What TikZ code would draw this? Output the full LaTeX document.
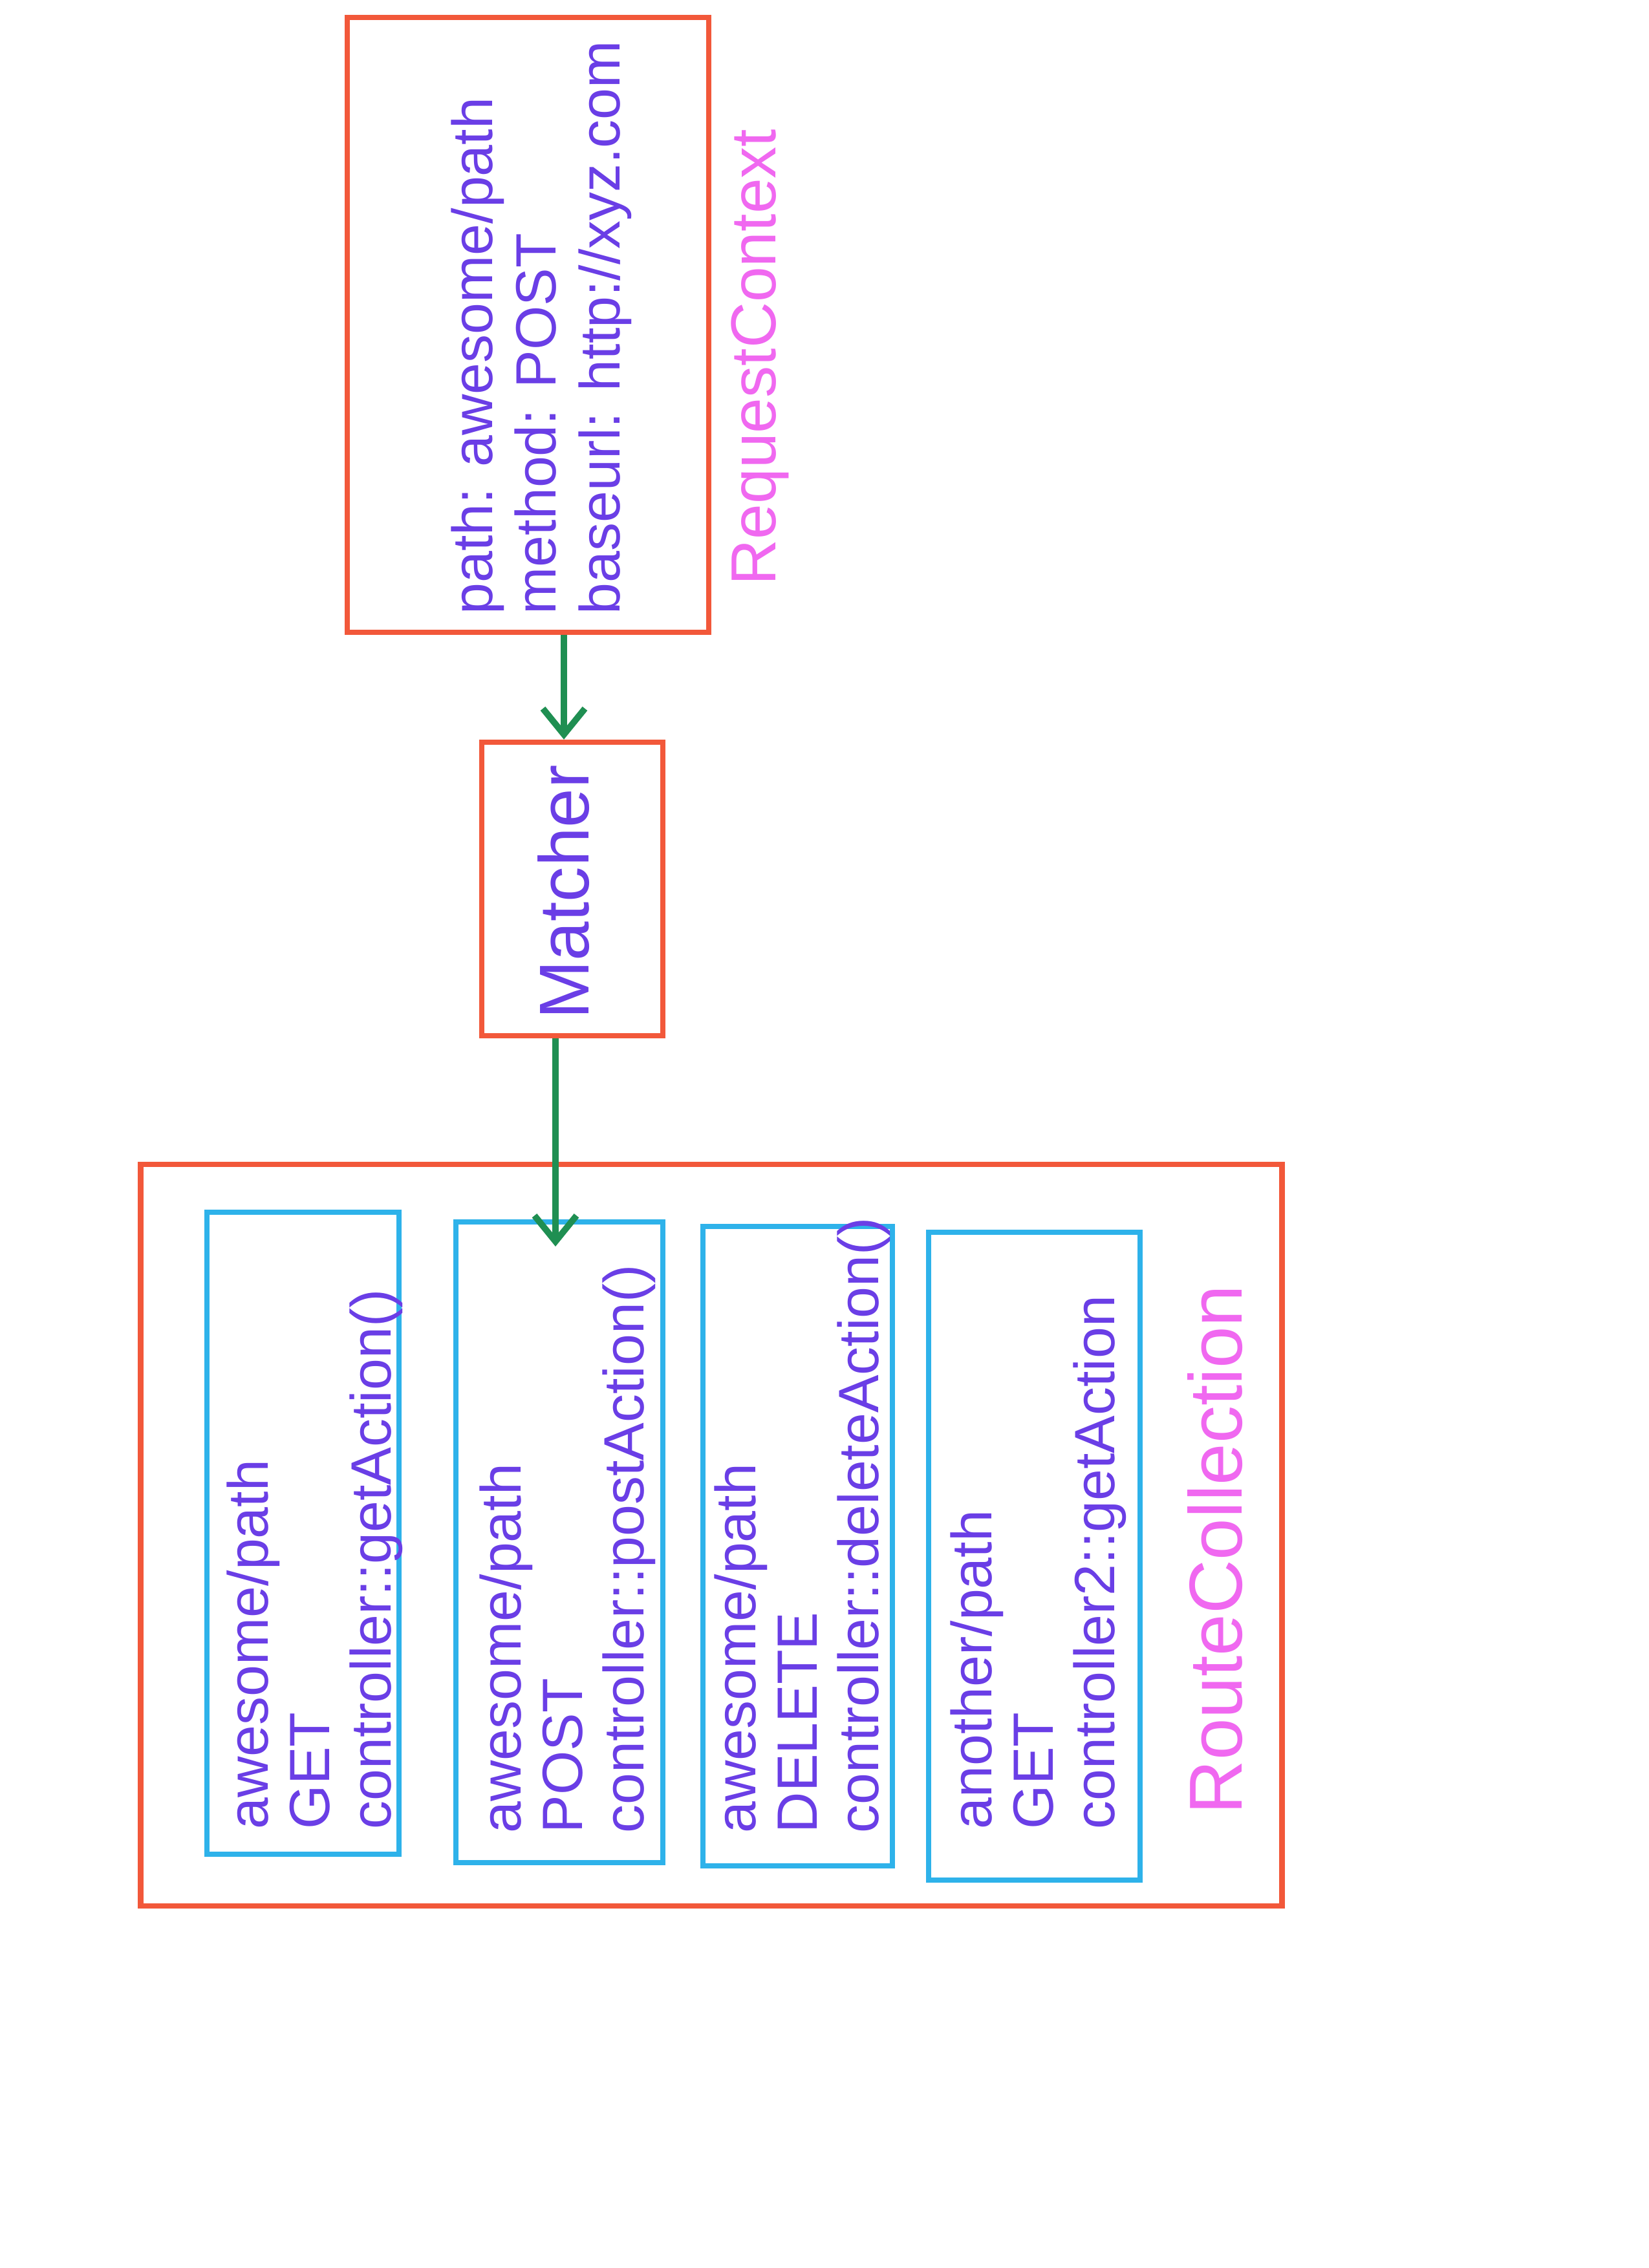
\documentclass[tikz,border=0pt]{standalone}
\usepackage{fontspec}
\setmainfont{Liberation Sans}
\usetikzlibrary{arrows.meta}
\definecolor{boxorange}{HTML}{F2583A}
\definecolor{routeblue}{HTML}{2EB2EA}
\definecolor{inkpurple}{HTML}{6A3EE6}
\definecolor{labelpink}{HTML}{F068F0}
\definecolor{arrowgreen}{HTML}{1F8F52}
\tikzset{
  outerbox/.style={draw=boxorange, line width=2.4pt, inner sep=0pt},
  routebox/.style={draw=routeblue, line width=2.4pt, inner sep=0pt},
  ink/.style={text=inkpurple, rotate=90, anchor=west, align=left, inner sep=0pt},
  bodytext/.style={ink, font=\fontsize{25}{28}\selectfont},
  routetext/.style={ink, font=\fontsize{25}{27}\selectfont},
  title/.style={text=labelpink, rotate=90, anchor=west, inner sep=0pt},
  flow/.style={draw=arrowgreen, line width=2.8pt, -{Straight Barb[length=4mm, width=6.5mm, line width=2.8pt]}}
}
\begin{document}
\begin{tikzpicture}
\useasboundingbox (0,0) rectangle (25.5,-35.08);
% RequestContext
\node[outerbox, minimum width=5.59cm, minimum height=9.51cm] (rc) at (8.165,-5.025) {};
\node[bodytext] (rctext) at (8.37,-9.51) {path: awesome/path\\method: POST\\baseurl: http://xyz.com};
\node[title, font=\fontsize{28}{32}\selectfont] (rclabel) at (11.75,-9.06) {RequestContext};
% Matcher
\node[outerbox, minimum width=2.8cm, minimum height=4.54cm] (matcher) at (8.85,-13.75) {};
\node[ink, anchor=center, font=\fontsize{31}{34}\selectfont] (mtext) at (8.72,-13.8) {Matcher};
% RouteCollection
\node[outerbox, minimum width=17.65cm, minimum height=11.47cm] (coll) at (11.0,-23.745) {};
\node[title, font=\fontsize{33}{36}\selectfont] (colllabel) at (18.79,-28.07) {RouteCollection};
\node[routebox, minimum width=2.97cm, minimum height=9.93cm] (r1) at (4.685,-23.715) {};
\node[routebox, minimum width=3.2cm, minimum height=9.91cm] (r2) at (8.65,-23.855) {};
\node[routebox, minimum width=2.93cm, minimum height=9.89cm] (r3) at (12.335,-23.915) {};
\node[routebox, minimum width=3.27cm, minimum height=10.02cm] (r4) at (15.995,-24.07) {};
\node[routetext] (t1) at (4.87,-28.30) {awesome/path\\GET\\controller::getAction()};
\node[routetext] (t2) at (8.78,-28.36) {awesome/path\\POST\\controller::postAction()};
\node[routetext] (t3) at (12.41,-28.36) {awesome/path\\DELETE\\controller::deleteAction()};
\node[routetext] (t4) at (16.06,-28.30) {another/path\\GET\\controller2::getAction};
% connectors
\coordinate (tip2) at (8.59,-19.28);
\draw[flow] (rc.south -| mtext) -- (matcher.north -| mtext);
\draw[flow] (matcher.south -| tip2) -- (tip2);
\end{tikzpicture}
\end{document}
